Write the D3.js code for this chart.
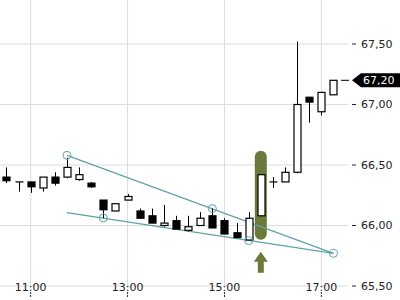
<!DOCTYPE html>
<html>
<head>
<meta charset="utf-8">
<script src="https://cdn.jsdelivr.net/npm/d3@7"></script>
<style>
  body { margin: 0; background: #fff; }
  svg { display: block; font-family: "DejaVu Sans", sans-serif; }
</style>
</head>
<body>
<div id="chart"></div>
<script>
// data
const times  = ["10:30","10:45","11:00","11:15","11:30","11:45","12:00","12:15","12:30","12:45","13:00","13:15","13:30","13:45",
                "14:00","14:15","14:30","14:45","15:00","15:15","15:30","15:45","16:00","16:15","16:30","16:45","17:00","17:15"];
const opens  = [66.40,66.36,66.36,66.31,66.40,66.40,66.38,66.35,66.21,66.12,66.21,66.12,66.08,66.00,
                66.04,65.96,66.00,66.08,66.04,65.94,65.88,66.08,66.36,66.36,66.44,67.06,66.94,67.08];
const highs  = [66.48,66.36,66.36,66.40,66.44,66.56,66.48,66.36,66.21,66.18,66.26,66.14,66.14,66.17,
                66.08,66.08,66.11,66.14,66.06,66.02,66.11,66.42,66.40,66.48,67.52,67.06,67.10,67.20];
const lows   = [66.35,66.28,66.27,66.28,66.33,66.39,66.37,66.31,66.06,66.12,66.21,66.06,66.02,65.99,
                65.97,65.95,66.00,65.98,65.93,65.90,65.88,66.08,66.31,66.36,66.43,66.85,66.91,67.08];
const closes = [66.37,66.36,66.32,66.40,66.35,66.48,66.42,66.32,66.13,66.18,66.24,66.06,66.02,66.02,
                65.97,65.99,66.06,65.98,65.93,65.90,66.06,66.42,66.36,66.44,67.00,67.02,67.10,67.20];

const xTickLabels = ["11:00", "13:00", "15:00", "17:00"];
const yTickValues = [65.5, 66.0, 66.5, 67.0, 67.5];

// trend lines (start / end) and their anchor circles
const upperLine = [["11:45", 66.58], ["17:15", 65.77]];
const lowerLine = [["11:45", 66.107], ["17:15", 65.77]];
const anchors = [["11:45", 66.58], ["14:45", 66.14], ["12:30", 66.062], ["15:30", 65.875], ["17:15", 65.77]];

const signalTime = "15:45";
const lastPrice = 67.20;

// svg
const width = 400, height = 300;
const plotRight = 348, plotTop = 0, plotBottom = 286;
const svg = d3.select("#chart").append("svg").attr("width", width).attr("height", height);

const parse = d3.timeParse("%H:%M");
const candles = times.map((t, i) => ({ t: parse(t), o: opens[i], h: highs[i], l: lows[i], c: closes[i] }));

// scale
const x = d3.scaleTime().domain([parse("10:22"), parse("17:33")]).range([0, plotRight]);
const y = d3.scaleLinear().domain([65.5, 67.5]).range([286, 44]);
const locale = d3.formatLocale({ decimal: ",", thousands: ".", grouping: [3], currency: ["", "€"] });
const fmt = locale.format(".2f");

const gridColor = "#dcdcdc";
const teal = "#5ea3a6";
const olive = "#6b7a3a";

// grid
svg.append("g").selectAll("line").data(yTickValues).join("line")
  .attr("x1", 0).attr("x2", plotRight)
  .attr("y1", d => y(d)).attr("y2", d => y(d))
  .attr("stroke", gridColor).attr("stroke-width", 1);

svg.append("g").selectAll("line").data(xTickLabels).join("line")
  .attr("x1", d => x(parse(d))).attr("x2", d => x(parse(d)))
  .attr("y1", plotTop).attr("y2", plotBottom + 2)
  .attr("stroke", gridColor).attr("stroke-width", 1);

// right axis
const yAxis = svg.append("g").selectAll("g").data(yTickValues).join("g")
  .attr("transform", d => `translate(0,${y(d)})`);
yAxis.append("line").attr("x1", 352).attr("x2", 356).attr("stroke", "#222");
yAxis.append("text").attr("x", 361).attr("dy", "0.35em")
  .attr("font-size", 11).attr("fill", "#222").text(d => fmt(d));

// bottom axis
const xAxis = svg.append("g").selectAll("g").data(xTickLabels).join("g")
  .attr("transform", d => `translate(${x(parse(d))},0)`);
xAxis.append("text").attr("y", 291).attr("text-anchor", "middle")
  .attr("font-size", 11).attr("fill", "#222").text(d => d);
xAxis.append("line").attr("y1", 292).attr("y2", 297)
  .attr("stroke", "#222").attr("stroke-dasharray", "2,1");

// signal highlight
const sig = candles.find(d => +d.t === +parse(signalTime));
const sx = x(sig.t);
svg.append("rect")
  .attr("x", sx - 6).attr("width", 12)
  .attr("y", y(sig.c) - 24).attr("height", y(sig.o) - y(sig.c) + 48)
  .attr("rx", 6).attr("fill", olive);

const ay = y(sig.o) + 36;
svg.append("path")
  .attr("d", `M${sx},${ay} L${sx + 7},${ay + 10} L${sx + 3},${ay + 10} L${sx + 3},${ay + 21} L${sx - 3},${ay + 21} L${sx - 3},${ay + 10} L${sx - 7},${ay + 10} Z`)
  .attr("fill", olive);

// trend lines
const line = d3.line().x(d => x(parse(d[0]))).y(d => y(d[1]));
[upperLine, lowerLine].forEach(l => {
  svg.append("path").datum(l).attr("d", line)
    .attr("fill", "none").attr("stroke", teal).attr("stroke-width", 1.2);
});

// candles
const cg = svg.append("g").selectAll("g").data(candles).join("g")
  .attr("transform", d => `translate(${Math.round(x(d.t)) + 0.5},0)`);
cg.append("line")
  .attr("y1", d => y(d.h)).attr("y2", d => y(d.l))
  .attr("stroke", "#000").attr("stroke-width", 1);
cg.filter(d => Math.abs(y(d.o) - y(d.c)) >= 1).append("rect")
  .attr("x", -3.5).attr("width", 7)
  .attr("y", d => y(Math.max(d.o, d.c)))
  .attr("height", d => Math.abs(y(d.o) - y(d.c)))
  .attr("fill", d => d.c < d.o ? "#000" : "#fff")
  .attr("stroke", "#000").attr("stroke-width", 1.2);
cg.filter(d => Math.abs(y(d.o) - y(d.c)) < 1).append("line")
  .attr("x1", -4).attr("x2", 4)
  .attr("y1", d => y(d.c)).attr("y2", d => y(d.c))
  .attr("stroke", "#000").attr("stroke-width", 1.2);

// anchor circles
svg.append("g").selectAll("circle").data(anchors).join("circle")
  .attr("cx", d => x(parse(d[0]))).attr("cy", d => y(d[1])).attr("r", 4)
  .attr("fill", "none").attr("stroke", teal).attr("stroke-width", 1);

// last price
const ly = y(lastPrice);
svg.append("line").attr("x1", 341).attr("x2", 349).attr("y1", ly).attr("y2", ly)
  .attr("stroke", "#000").attr("stroke-width", 1);
svg.append("path")
  .attr("d", `M352,${ly} L361,${ly - 7} L400,${ly - 7} L400,${ly + 7} L361,${ly + 7} Z`)
  .attr("fill", "#000");
svg.append("text").attr("x", 363).attr("y", ly).attr("dy", "0.35em")
  .attr("font-size", 11).attr("fill", "#fff").text(fmt(lastPrice));
</script>
</body>
</html>
